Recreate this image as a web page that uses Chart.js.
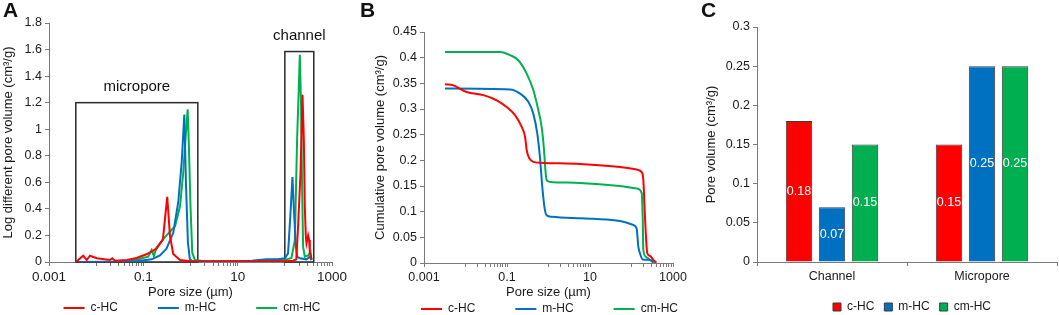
<!DOCTYPE html>
<html>
<head>
<meta charset="utf-8">
<script src="https://cdn.jsdelivr.net/npm/chart.js@4.4.0/dist/chart.umd.min.js"></script>
<style>
  body { margin: 0; background: #fff; }
  #wrap { position: relative; width: 1059px; height: 315px; overflow: hidden; background: #fff; }
  .panel { position: absolute; top: 0; height: 315px; }
  .letter { position: absolute; top: -2px; font: bold 21px "Liberation Sans", Arial, sans-serif; color: #111; z-index: 2; }
</style>
</head>
<body>
<div id="wrap">
  <div class="panel" style="left:0;width:352px"><canvas id="chartA"></canvas></div>
  <div class="panel" style="left:368px;width:325px"><canvas id="chartB"></canvas></div>
  <div class="panel" style="left:698px;width:361px"><canvas id="chartC"></canvas></div>
  <div class="letter" style="left:3px">A</div>
  <div class="letter" style="left:360px">B</div>
  <div class="letter" style="left:701px">C</div>
</div>
<script>
// series shared by the three panels
const seriesNames = ['c-HC', 'm-HC', 'cm-HC'];
const seriesColors = ['#ff0000', '#0070c0', '#00b050'];

// x axis of A and B (pore size, µm, log)
const sizeTicks = [0.001, 0.01, 0.02, 0.03, 0.04, 0.05, 0.06, 0.07, 0.08, 0.09, 0.1,
  1, 2, 3, 4, 5, 6, 7, 8, 9, 10, 100, 200, 300, 400, 500, 600, 700, 800, 900, 1000];
const sizeLabels = [0.001, 0.1, 10, 1000];

// panel A: log differential pore volume
const aVolTicks = [0, 0.2, 0.4, 0.6, 0.8, 1, 1.2, 1.4, 1.6, 1.8];
const aRedSize = [0.0037, 0.0053, 0.0063, 0.0074, 0.0103, 0.0196, 0.0219, 0.025, 0.045, 0.072, 0.12, 0.19, 0.26, 0.321, 0.366, 0.43, 0.6, 1.12,
  3, 8, 20, 50, 100, 150, 175, 191, 215, 237, 253, 265, 279, 288, 312, 328, 339, 368];
const aRedVol = [0, 0.047, 0.015, 0.047, 0.028, 0.015, 0.028, 0.01, 0.015, 0.03, 0.06, 0.1, 0.17, 0.49, 0.2, 0.06, 0.015, 0.003,
  0.003, 0.006, 0.004, 0.005, 0.006, 0.01, 0.02, 0.27, 0.67, 1.26, 0.92, 0.42, 0.19, 0.14, 0.2, 0.165, 0.07, 0.02];
const aBlueSize = [0.0037, 0.02, 0.07, 0.15, 0.225, 0.31, 0.43, 0.55, 0.65, 0.74, 0.8, 0.88, 0.97, 1.12,
  3, 10, 20, 40, 70, 100, 117, 132, 145, 157, 171, 182, 208, 288, 339, 368];
const aBlueVol = [0, 0.002, 0.005, 0.02, 0.05, 0.1, 0.22, 0.45, 0.75, 1.11, 0.6, 0.15, 0.02, 0.005,
  0.005, 0.005, 0.01, 0.02, 0.02, 0.028, 0.065, 0.37, 0.64, 0.37, 0.115, 0.04, 0.028, 0.02, 0.04, 0.015];
const aGreenSize = [0.0037, 0.044, 0.085, 0.127, 0.15, 0.168, 0.19, 0.31, 0.47, 0.6, 0.7, 0.8, 0.87, 0.92, 1.0, 1.09, 1.24,
  2.2, 10, 30, 80, 110, 138, 163, 182, 208, 221, 233, 244, 265, 312, 351, 368];
const aGreenVol = [0, 0, 0.025, 0.04, 0.09, 0.045, 0.11, 0.2, 0.27, 0.42, 0.67, 0.97, 1.15, 0.9, 0.42, 0.07, 0.015,
  0.003, 0.004, 0.01, 0.015, 0.02, 0.03, 0.165, 0.92, 1.56, 1.17, 0.54, 0.115, 0.04, 0.05, 0.077, 0.015];
const boxNames = ['micropore', 'channel'];
const boxFrom = [0.0037, 100];
const boxTo = [1.43, 411];
const boxTop = [1.2, 1.585];

// panel B: cumulative pore volume
const bVolTicks = [0, 0.05, 0.1, 0.15, 0.2, 0.25, 0.3, 0.35, 0.4, 0.45];
const bRedSize = [0.0032, 0.0051, 0.0107, 0.027, 0.0565, 0.098, 0.156, 0.226, 0.272, 0.298, 0.345, 0.43, 0.75,
  5.7, 53, 133, 176, 193, 211, 240, 279, 335, 400];
const bRedVol = [0.348, 0.346, 0.333, 0.327, 0.317, 0.304, 0.288, 0.265, 0.246, 0.22, 0.204, 0.197, 0.195,
  0.193, 0.187, 0.182, 0.177, 0.161, 0.09, 0.019, 0.014, 0.006, 0.001];
const bBlueSize = [0.0032, 0.118, 0.206, 0.327, 0.43, 0.537, 0.62, 0.72, 0.82, 0.9, 1.19,
  5.7, 12, 53, 111, 133, 146, 160, 186, 279, 335];
const bBlueVol = [0.34, 0.338, 0.33, 0.314, 0.291, 0.252, 0.207, 0.142, 0.103, 0.093, 0.09,
  0.087, 0.086, 0.082, 0.074, 0.067, 0.032, 0.019, 0.007, 0.006, 0.001];
const bGreenSize = [0.0032, 0.068, 0.118, 0.187, 0.298, 0.43, 0.568, 0.684, 0.78, 0.855, 0.906, 1.09,
  5.7, 53, 133, 176, 186, 193, 224, 279, 368];
const bGreenVol = [0.411, 0.411, 0.405, 0.395, 0.369, 0.337, 0.298, 0.265, 0.22, 0.175, 0.161, 0.158,
  0.156, 0.15, 0.145, 0.136, 0.09, 0.025, 0.012, 0.006, 0.001];

// panel C: pore volume by type
const cCategories = ['Channel', 'Micropore'];
const cRed = [0.18, 0.15];
const cBlue = [0.07, 0.25];
const cGreen = [0.15, 0.25];
const cVolTicks = [0, 0.05, 0.1, 0.15, 0.2, 0.25, 0.3];

const FONT = '"Liberation Sans", Arial, sans-serif';
const AXIS = '#7a7a7a';
Chart.defaults.font.family = FONT;
Chart.defaults.color = '#1a1a1a';
Chart.defaults.animation = false;

function pts(xs, ys) { return xs.map((x, i) => ({x: x, y: ys[i]})); }

function lineSet(i, xs, ys, smooth) {
  return {
    label: seriesNames[i], data: pts(xs, ys), showLine: true,
    borderColor: seriesColors[i], backgroundColor: seriesColors[i],
    borderWidth: 2, pointRadius: 0, tension: 0,
    cubicInterpolationMode: smooth ? 'monotone' : 'default'
  };
}

function fixedTicks(list) {
  return (scale) => { scale.ticks = list.map(v => ({value: v})); };
}

function axisBase() {
  return {
    border: {display: true, color: AXIS, width: 1},
    grid: {display: true, drawOnChartArea: false, drawTicks: true, tickLength: 4, color: AXIS},
    ticks: {font: {size: 12.5}, padding: 3, autoSkip: false, maxRotation: 0, minRotation: 0}
  };
}

function sizeAxis(h, fs) {
  const a = axisBase();
  a.type = 'logarithmic'; a.min = 0.001; a.max = 1000;
  a.afterBuildTicks = fixedTicks(sizeTicks);
  a.ticks.callback = v => sizeLabels.includes(v) ? String(v) : '';
  a.ticks.font = {size: fs};
  a.title = {display: true, text: 'Pore size (µm)', font: {size: 13}, padding: {top: 0, bottom: 0}};
  a.afterFit = s => { s.height = h; };
  return a;
}

function volAxis(ticks, max, title, w, tpad) {
  const a = axisBase();
  a.min = 0; a.max = max;
  a.afterBuildTicks = fixedTicks(ticks);
  a.ticks.callback = v => String(v);
  a.title = {display: true, text: title, font: {size: 13}, padding: {top: tpad, bottom: 0}};
  a.afterFit = s => { s.width = w; };
  return a;
}

// keeps the legend on one row and puts it at a fixed spot under the axis
const legendPlace = {
  id: 'legendPlace',
  beforeLayout(chart) {
    const lg = chart.legend;
    if (!lg || lg._oneRow) return;
    const fitRows = lg._fitRows;
    lg._fitRows = function (...args) {
      const mw = this.maxWidth;
      this.maxWidth = 5000;
      const h = fitRows.apply(this, args);
      this.maxWidth = mw;
      return h;
    };
    lg._oneRow = true;
  },
  afterLayout(chart, args, opts) {
    const lg = chart.legend;
    if (!lg || opts.y == null) return;
    const pad = lg.options.labels.padding;
    lg.left = opts.x - 400;
    lg.right = opts.x + 400;
    lg.width = 800;
    lg.top = opts.y - pad - 6;
    lg.bottom = opts.y + 10;
  }
};

// vertical value axis line, drawn once more on top so it always shows
const leftAxisLine = {
  id: 'leftAxisLine',
  afterDraw(chart) {
    const {ctx, chartArea: a} = chart;
    const x = Math.round(a.left) + 0.5;
    ctx.save();
    ctx.strokeStyle = AXIS;
    ctx.lineWidth = 1;
    ctx.beginPath();
    ctx.moveTo(x, Math.round(a.top));
    ctx.lineTo(x, Math.round(a.bottom) + 1);
    ctx.stroke();
    ctx.restore();
  }
};

const poreBoxes = {
  id: 'poreBoxes',
  beforeDatasetsDraw(chart) {
    const {ctx, scales: {x, y}} = chart;
    ctx.save();
    ctx.strokeStyle = '#2b2b2b';
    ctx.lineWidth = 1.5;
    ctx.fillStyle = '#111';
    ctx.font = '15px ' + FONT;
    ctx.textAlign = 'center';
    ctx.textBaseline = 'alphabetic';
    boxNames.forEach((name, i) => {
      const l = x.getPixelForValue(boxFrom[i]);
      const r = x.getPixelForValue(boxTo[i]);
      const t = y.getPixelForValue(boxTop[i]);
      const b = y.getPixelForValue(0);
      ctx.strokeRect(l, t, r - l, b - t);
      ctx.fillText(name, (l + r) / 2, t - 12);
    });
    ctx.restore();
  }
};

const barValues = {
  id: 'barValues',
  afterDatasetsDraw(chart) {
    const {ctx} = chart;
    ctx.save();
    ctx.fillStyle = '#fff';
    ctx.font = '12.5px ' + FONT;
    ctx.textAlign = 'center';
    ctx.textBaseline = 'middle';
    chart.data.datasets.forEach((ds, i) => {
      chart.getDatasetMeta(i).data.forEach((bar, j) => {
        ctx.fillText(ds.data[j].toFixed(2), bar.x, (bar.y + bar.base) / 2);
      });
    });
    ctx.restore();
  }
};

function lineLegend(x, y) {
  return {
    legend: {
      position: 'bottom', fullSize: false, maxHeight: 15,
      labels: {usePointStyle: true, pointStyle: 'line', pointStyleWidth: 21, padding: 40, font: {size: 12}, color: '#1a1a1a'}
    },
    legendPlace: {x: x, y: y},
    tooltip: {enabled: false}
  };
}

new Chart(document.getElementById('chartA'), {
  type: 'scatter',
  data: {datasets: [
    lineSet(0, aRedSize, aRedVol, false),
    lineSet(1, aBlueSize, aBlueVol, false),
    lineSet(2, aGreenSize, aGreenVol, false)
  ]},
  options: {
    responsive: true, maintainAspectRatio: false, devicePixelRatio: 1,
    layout: {padding: {left: 0, right: 20, top: 23, bottom: 0}},
    scales: {
      x: sizeAxis(38, 13.5),
      y: volAxis(aVolTicks, 1.8, 'Log different pore volume (cm³/g)', 49, 1)
    },
    plugins: lineLegend(192, 308)
  },
  plugins: [poreBoxes, legendPlace, leftAxisLine]
});

new Chart(document.getElementById('chartB'), {
  type: 'scatter',
  data: {datasets: [
    lineSet(0, bRedSize, bRedVol, true),
    lineSet(1, bBlueSize, bBlueVol, true),
    lineSet(2, bGreenSize, bGreenVol, true)
  ]},
  options: {
    responsive: true, maintainAspectRatio: false, devicePixelRatio: 1,
    layout: {padding: {left: 0, right: 20, top: 32, bottom: 0}},
    scales: {
      x: sizeAxis(37, 12.5),
      y: volAxis(bVolTicks, 0.45, 'Cumulative pore volume (cm³/g)', 56, 5)
    },
    plugins: lineLegend(181.5, 309)
  },
  plugins: [legendPlace, leftAxisLine]
});

const cX = axisBase();
cX.afterFit = s => { s.height = 38; };
cX.grid.offset = true;
const cY = volAxis(cVolTicks, 0.3, 'Pore volume (cm³/g)', 59, 6);

new Chart(document.getElementById('chartC'), {
  type: 'bar',
  data: {
    labels: cCategories,
    datasets: [cRed, cBlue, cGreen].map((d, i) => ({
      label: seriesNames[i], data: d,
      backgroundColor: seriesColors[i], borderColor: '#3c3c3c', borderWidth: 1,
      categoryPercentage: 0.66, barPercentage: 0.8
    }))
  },
  options: {
    responsive: true, maintainAspectRatio: false, devicePixelRatio: 1,
    layout: {padding: {left: 0, right: 2, top: 27, bottom: 0}},
    scales: {x: cX, y: cY},
    plugins: {
      legend: {
        position: 'bottom', fullSize: false, maxHeight: 15,
        labels: {boxWidth: 8, boxHeight: 8, padding: 10, font: {size: 12}, color: '#1a1a1a'}
      },
      legendPlace: {x: 214, y: 307},
      tooltip: {enabled: false}
    }
  },
  plugins: [barValues, legendPlace, leftAxisLine]
});
</script>
</body>
</html>
